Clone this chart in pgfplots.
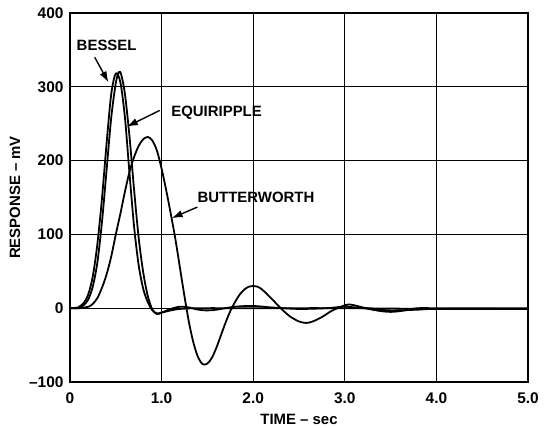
\documentclass[border=0pt]{standalone}
\usepackage{pgfplots}
\pgfplotsset{compat=1.18}
\usetikzlibrary{arrows.meta}
\usepackage{fontspec}
\setmainfont{Liberation Sans}
\begin{document}
\begin{tikzpicture}
\begin{axis}[
  scale only axis,
  width=458bp, height=369bp,
  xmin=0, xmax=5, ymin=-100, ymax=400,
  xtick={0,1,2,3,4,5},
  xticklabels={0,1.0,2.0,3.0,4.0,5.0},
  ytick={-100,0,100,200,300,400},
  yticklabels={\textendash100,0,100,200,300,400},
  grid=major,
  major grid style={black, line width=1.2pt},
  axis line style={black, line width=1.8pt},
  major tick length=0pt,
  tick label style={font=\fontsize{15.5}{17}\selectfont\bfseries},
  xticklabel style={yshift=-7bp},
  yticklabel style={xshift=-3bp},
  xlabel={TIME \textendash{} sec},
  ylabel={RESPONSE \textendash{} mV},
  label style={font=\fontsize{15}{17}\selectfont\bfseries},
  xlabel style={at={(rel axis cs:0.5,0)}, anchor=center, yshift=-37bp},
  ylabel style={yshift=2bp},
  clip=true,
]
\coordinate (ll) at (rel axis cs:0,0);
\coordinate (ur) at (rel axis cs:1,1);
% Bessel
\addplot[black, line width=1.8pt, smooth, no marks] coordinates {
(0,0) (0.08,0) (0.1,2) (0.15,7) (0.2,19) (0.25,44) (0.3,88) (0.35,150) (0.4,224) (0.45,290) (0.5,318) (0.55,306) (0.6,258) (0.65,182) (0.7,110) (0.75,58) (0.8,26) (0.85,8) (0.9,-3) (0.95,-7) (1.0,-6) (1.1,-3) (1.2,-1) (1.4,0) (2,0) (3,0) (4,-1) (5,-1)
};
% Equiripple
\addplot[black, line width=1.8pt, smooth, no marks] coordinates {
(0,0) (0.1,1) (0.15,4) (0.2,12) (0.25,30) (0.3,63) (0.35,118) (0.4,188) (0.45,258) (0.5,305) (0.535,320) (0.56,316) (0.6,290) (0.65,232) (0.7,160) (0.75,95) (0.8,48) (0.85,16) (0.9,-2) (0.95,-8) (1.0,-6) (1.1,-1) (1.2,2) (1.3,1) (1.4,-2) (1.5,-3) (1.6,-2) (1.8,2) (2.0,3) (2.2,1) (2.5,-1) (2.8,0) (3.0,2) (3.2,0) (3.5,-3) (3.8,-2) (4.0,-1) (5.0,-1)
};
% Butterworth
\addplot[black, line width=1.8pt, smooth, no marks] coordinates {
(0,0) (0.1,0) (0.2,2) (0.25,6) (0.3,14) (0.35,28) (0.4,46) (0.45,70) (0.5,100) (0.55,128) (0.6,158) (0.65,185) (0.7,205) (0.75,220) (0.8,229) (0.85,232) (0.9,227) (0.95,213) (1.0,189) (1.05,160) (1.1,128) (1.15,94) (1.2,55) (1.25,16) (1.3,-20) (1.35,-48) (1.4,-67) (1.45,-76) (1.5,-75) (1.55,-67) (1.6,-53) (1.65,-36) (1.7,-19) (1.75,-4) (1.8,8) (1.85,18) (1.9,25) (1.95,29) (2.0,30) (2.05,29) (2.1,25) (2.2,13) (2.3,0) (2.4,-11) (2.5,-18) (2.58,-20) (2.65,-18) (2.75,-12) (2.85,-4) (2.92,0) (3.0,4) (3.05,5) (3.1,4) (3.2,1) (3.3,-2) (3.4,-4) (3.5,-5) (3.6,-4) (3.7,-2) (3.8,0) (4.0,0) (4.5,0) (5.0,0)
};
\node[font=\fontsize{15}{17}\selectfont\bfseries] at (axis cs:0.40,356) {BESSEL};
\draw[-{Latex[length=11bp,width=7.5bp]}, line width=1.4pt] (axis cs:0.27,340) -- (axis cs:0.42,306);
\node[font=\fontsize{15}{17}\selectfont\bfseries] at (axis cs:1.60,265) {EQUIRIPPLE};
\draw[-{Latex[length=11bp,width=7.5bp]}, line width=1.4pt] (axis cs:0.98,268) -- (axis cs:0.62,246);
\node[font=\fontsize{15}{17}\selectfont\bfseries] at (axis cs:2.03,150) {BUTTERWORTH};
\draw[-{Latex[length=11bp,width=7.5bp]}, line width=1.4pt] (axis cs:1.39,137) -- (axis cs:1.11,122);
\end{axis}
\pgfresetboundingbox
\path ([shift={(-70bp,-46bp)}]ll) rectangle ([shift={(16bp,13bp)}]ur);
\end{tikzpicture}
\end{document}
